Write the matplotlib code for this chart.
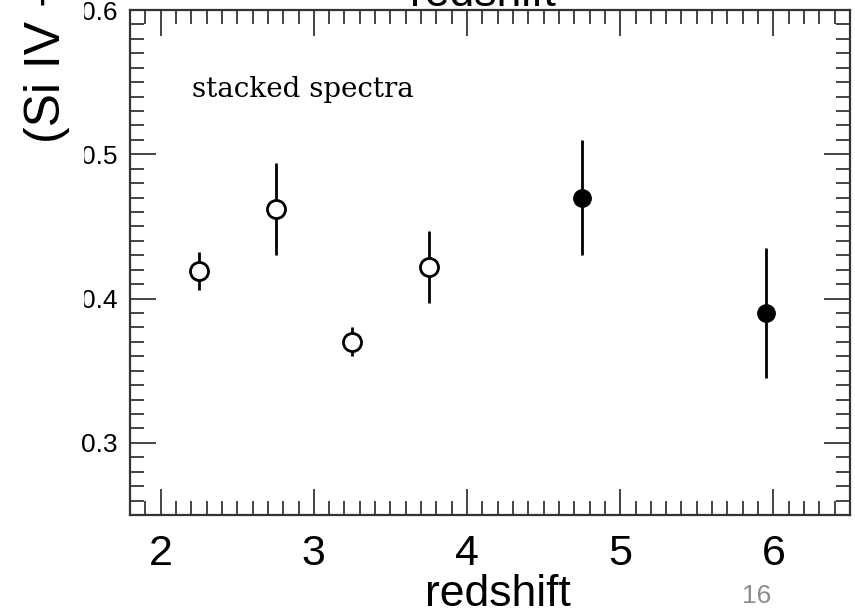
import numpy as np
import matplotlib
matplotlib.use('Agg')
import matplotlib.pyplot as plt
from matplotlib.patches import Rectangle
from matplotlib.ticker import MultipleLocator

# ==================== Data ====================
# open circles: individual-redshift stacks
z_open = [2.25, 2.75, 3.25, 3.75]
r_open = [0.419, 0.462, 0.370, 0.422]
e_open = [0.013, 0.032, 0.010, 0.025]
# filled circles: high-z stacks
z_fill = [4.75, 5.95]
r_fill = [0.470, 0.390]
e_fill = [0.040, 0.045]

X_TICKS = [2, 3, 4, 5, 6]
Y_TICKS = [0.3, 0.4, 0.5, 0.6]
SANS = ['Liberation Sans', 'DejaVu Sans']

W, H = 855, 614

fig = plt.figure(figsize=(W / 100, H / 100), dpi=100)
ax = fig.add_axes([130 / W, 1 - 515 / H, 720 / W, 505 / H])

ax.errorbar(z_open, r_open, yerr=e_open, fmt='o', mfc='white', mec='black',
            mew=2.0, ms=13, ecolor='black', elinewidth=2.0, capsize=0,
            zorder=3)
ax.errorbar(z_fill, r_fill, yerr=e_fill, fmt='o', mfc='black', mec='black',
            ms=12.5, ecolor='black', elinewidth=2.0, capsize=0, zorder=3)

ax.set_xlim(1.8, 6.5)
ax.set_ylim(0.25, 0.6)
ax.set_xticks(X_TICKS)
ax.set_yticks(Y_TICKS)
ax.xaxis.set_minor_locator(MultipleLocator(0.1))
ax.yaxis.set_minor_locator(MultipleLocator(0.01))
ax.set_yticklabels([f'{v:.1f}' for v in Y_TICKS])

ax.tick_params(which='both', direction='in', top=True, right=True,
               color='#444444', width=1.4)
ax.tick_params(which='major', length=19)
ax.tick_params(which='minor', length=10)
ax.tick_params(axis='x', which='major', labelsize=31, pad=14)
ax.tick_params(axis='y', which='major', labelsize=19, pad=9)
for lab in ax.get_xticklabels() + ax.get_yticklabels():
    lab.set_family(SANS)
for sp in ax.spines.values():
    sp.set_linewidth(1.6)
    sp.set_color('#333333')

ax.text(2.205, 0.540, 'stacked spectra', fontsize=20,
        family='DejaVu Serif', ha='left', va='baseline')

# slide-level texts (y label text box covers the left of the tick labels)
fig.add_artist(Rectangle((0, 1 - 380 / H), 83 / W, 380 / H,
                         transform=fig.transFigure, color='white', zorder=2))
fig.text(47 / W, 1 - 143 / H, '(Si IV + C IV)', rotation=90, fontsize=36,
         family=SANS, ha='center', va='bottom', zorder=4)
fig.text(483 / W, 1 - 6 / H, 'redshift', fontsize=32, family=SANS,
         ha='center', va='baseline')
fig.text(498 / W, 1 - 606 / H, 'redshift', fontsize=32, family=SANS,
         ha='center', va='baseline')
fig.text(757 / W, 1 - 603 / H, '16', fontsize=19, family=SANS,
         color='#8c8c8c', ha='center', va='baseline')

fig.savefig('out.png', dpi=100)
